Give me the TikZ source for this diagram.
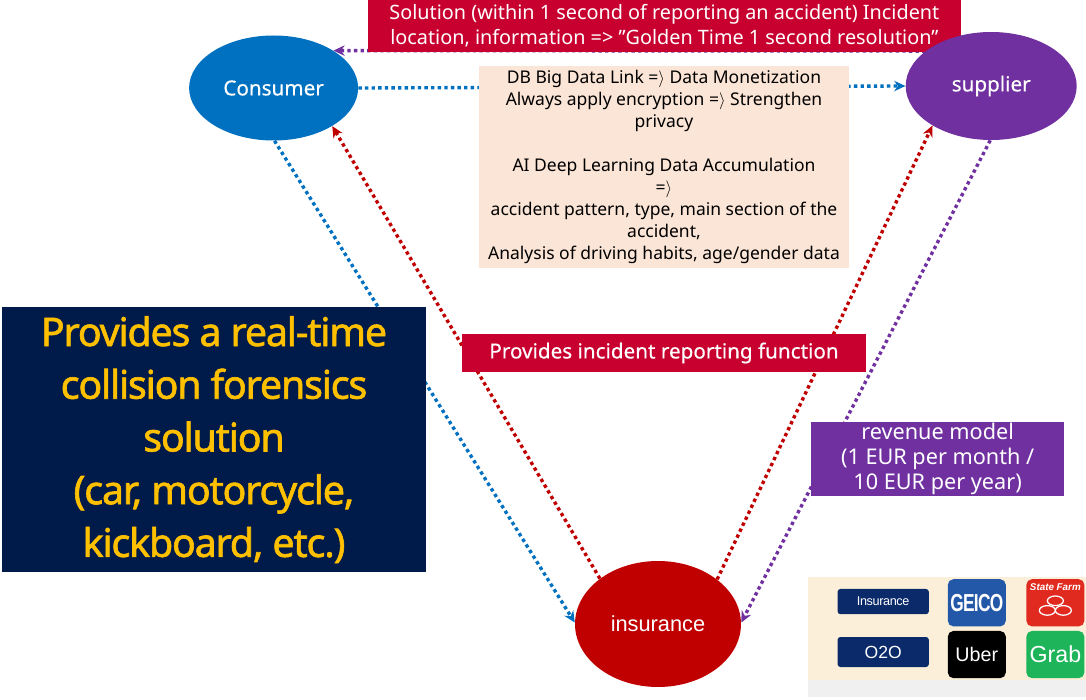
\documentclass[tikz,border=0pt]{standalone}
\usepackage{fontspec}
\setmainfont{Noto Sans}[Ligatures=ResetAll]
\newfontfamily\arialfont{Liberation Sans}
\usetikzlibrary{arrows.meta,backgrounds,calc,positioning,shapes.geometric}
\definecolor{linkblue}{HTML}{0070C0}
\definecolor{linkred}{HTML}{C00000}
\definecolor{linkpurple}{HTML}{7030A0}
\definecolor{boxcrimson}{HTML}{C8002F}
\definecolor{boxpeach}{HTML}{FBE5D6}
\definecolor{boxnavy}{HTML}{001A4A}
\definecolor{titleyellow}{HTML}{FFC000}
\definecolor{panelcream}{HTML}{FBEFD9}
\definecolor{panelgray}{HTML}{F0F0F0}
\definecolor{pillnavy}{HTML}{0A2A6A}
\definecolor{geicoblue}{HTML}{2358A8}
\definecolor{farmred}{HTML}{E12A1F}
\definecolor{grabgreen}{HTML}{1DB45A}
\newcommand{\impl}{=$\rangle$}
\tikzset{
    market diagram/.style = {>={Stealth[length=2.8mm,width=2.6mm]}},
    link/.style    = {line width=2.4pt, dash pattern=on 2.4pt off 2.3pt},
    party/.style   = {ellipse, inner sep=0pt, text=white,
                      font=\fontsize{14.7}{17}\selectfont\addfontfeature{FakeBold=0.4}},
    block/.style   = {inner sep=0pt, align=center, text=white},
    logo/.style    = {block, rounded corners=4pt, minimum width=1.45cm, minimum height=1.18cm},
    pill/.style    = {block, rounded corners=2pt, fill=pillnavy, minimum width=2.28cm}
}
\begin{document}
\begin{tikzpicture}[market diagram]
\useasboundingbox (0,0) rectangle (27.15,-17.5);

% Panel behind the partner logos
\node[minimum width=6.95cm, minimum height=3cm, inner sep=0pt, fill=panelgray] (graypanel) at (23.675,-15.925) {};
\node[minimum width=6.95cm, minimum height=2.575cm, inner sep=0pt, fill=panelcream] (creampanel) at (23.675,-15.7125) {};

\node[block, fill=boxcrimson, minimum width=14.825cm, minimum height=1.3cm,
      font=\fontsize{14.1}{17.8}\selectfont] (solution) at (16.61,-0.65)
    {Solution (within 1 second of reporting an accident) Incident\\
     location, information => "Golden Time 1 second resolution"};

% The three parties
\node[party, fill=linkblue, minimum width=4.225cm, minimum height=2.625cm] (consumer) at (6.84,-2.2) {Consumer};
\node[party, fill=linkpurple, minimum width=4.275cm, minimum height=2.7cm] (supplier) at (24.78,-2.15) {supplier};
\node[party, fill=linkred, minimum width=4.15cm, minimum height=3.15cm, font=\arialfont\fontsize{15.5}{17}\selectfont] (insurance) at (16.45,-15.6) {insurance};

% Connectors run behind all boxes
\begin{scope}[on background layer]
    \draw[->, link, linkpurple] (supplier.152) -- (consumer.32);
    \draw[->, link, linkblue] (consumer.east) -- (supplier.west);
    \draw[->, link, linkblue] (consumer.-89) -- (insurance.179);
    \draw[->, link, linkred] (insurance.142) -- (consumer.-33);
    \draw[->, link, linkred] (insurance.37) -- (supplier.-146);
    \draw[->, link, linkpurple] (supplier.-91) -- (insurance.1);
\end{scope}

\node[block, fill=boxpeach, text=black, minimum width=9.25cm, minimum height=5.05cm,
      font=\fontsize{12.45}{15.6}\selectfont] (dataplan) at (16.6,-4.175)
    {DB Big Data Link \impl{} Data Monetization\\
     Always apply encryption \impl{} Strengthen\\
     privacy\\[15.6pt]
     AI Deep Learning Data Accumulation\\
     \impl\\
     accident pattern, type, main section of the\\
     accident,\\
     Analysis of driving habits, age/gender data};

\node[block, fill=boxnavy, text=titleyellow, minimum width=10.6cm, minimum height=6.625cm,
      font=\fontsize{28}{37.5}\selectfont\addfontfeature{LetterSpace=-3,FakeBold=1.6}] (title) at (5.35,-10.99)
    {Provides a real-time\\collision forensics\\solution\\(car, motorcycle,\\kickboard, etc.)};

\node[block, fill=boxcrimson, minimum width=10.1cm, minimum height=0.95cm,
      font=\fontsize{14.7}{17}\selectfont\addfontfeature{FakeBold=0.4}] (reporting) at (16.6,-8.825)
    {Provides incident reporting function};

\node[block, fill=linkpurple, minimum width=6.325cm, minimum height=1.85cm,
      font=\fontsize{15.4}{18}\selectfont] (revenue) at (23.44,-11.475)
    {revenue model\\(1 EUR per month /\\10 EUR per year)};

% Partner logos
\node[pill, minimum height=0.63cm, font=\arialfont\fontsize{9}{10}\selectfont\addfontfeature{LetterSpace=-3}] (pillins) at (22.08,-15.04) {Insurance};
\node[pill, minimum height=0.75cm, font=\arialfont\fontsize{12.5}{14}\selectfont] (pillozo) at (22.08,-16.3) {O2O};
\node[logo, fill=geicoblue, font=\arialfont\bfseries\fontsize{14}{18}\selectfont\addfontfeature{LetterSpace=-4}] (geico) at (24.42,-15.07) {\scalebox{0.88}[1.25]{GEICO}};
\node[logo, fill=black, font=\arialfont\fontsize{14}{16}\selectfont, below=0.1cm of geico] (uber) {Uber};
\node[logo, fill=farmred, right=0.5cm of geico] (statefarm) {};
\node[logo, fill=grabgreen, font=\arialfont\fontsize{16.5}{17}\selectfont, right=0.5cm of uber] (grab) {Grab};
\node[text=white, inner sep=0pt, font=\arialfont\bfseries\itshape\fontsize{7}{9}\selectfont, below=0.1cm of statefarm.north] (farmtext) {State Farm};
\foreach \dx/\dy in {0/0.17, -0.2/-0.07, 0.2/-0.07}
    \draw[white, line width=0.9pt, fill=farmred] ($(statefarm.center)+(\dx,\dy-0.12)$) ellipse (0.2 and 0.12);
\end{tikzpicture}
\end{document}
